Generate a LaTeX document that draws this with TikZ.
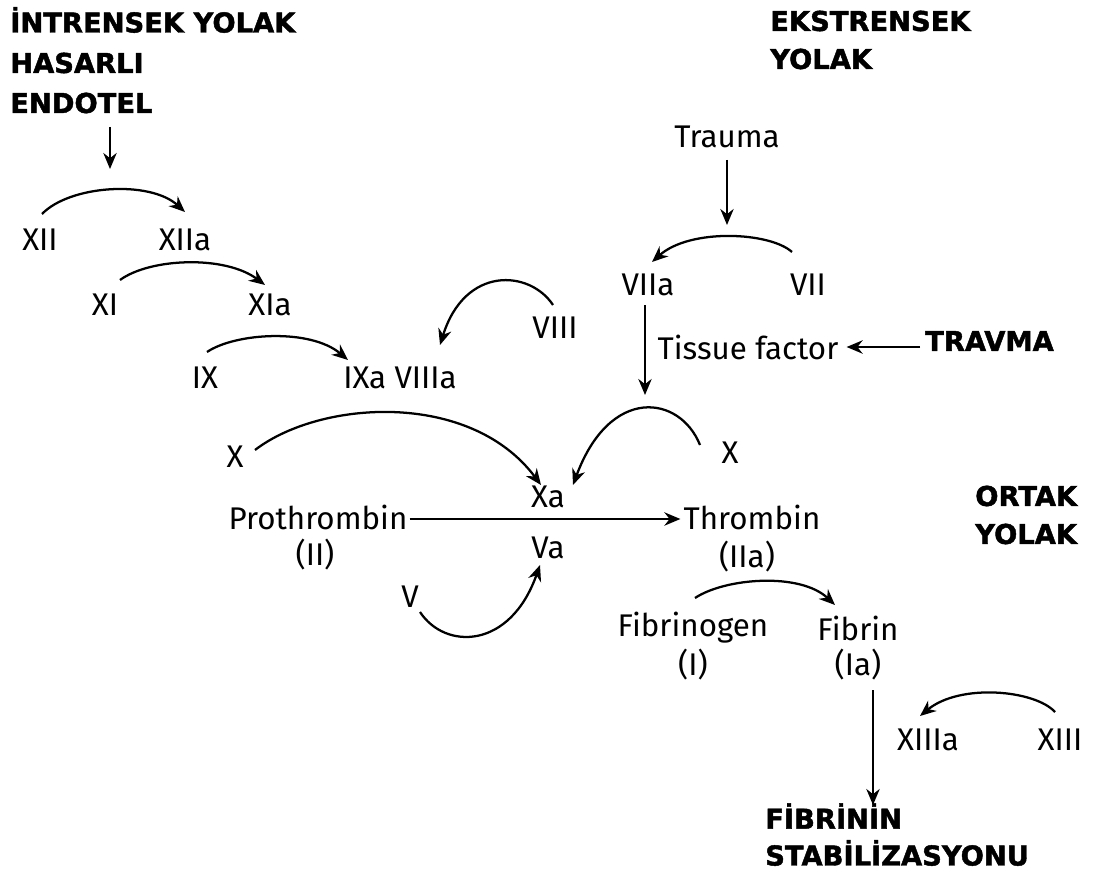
\documentclass[tikz,border=0pt]{standalone}
\usepackage{fontspec}
\setmainfont{Fira Sans}
\newfontfamily\headfont{DejaVu Sans}[BoldFont={DejaVu Sans Bold}, BoldFeatures={FakeBold=1.6}]
\usetikzlibrary{arrows.meta,calc}
\tikzset{
  lbl/.style={inner sep=0pt, font=\fontsize{23.5}{26}\selectfont},
  hd/.style={inner sep=0pt, anchor=west, font=\headfont\bfseries\fontsize{20.5}{23}\selectfont},
  arr/.style={-{Stealth[length=12pt,width=10pt]}, line width=1.7pt},
}
\begin{document}
\begin{tikzpicture}[x=0.75pt,y=-0.75pt]
\useasboundingbox (0,0) rectangle (1099,870);

% headings
\node[hd] (intr) at (10,20) {İNTRENSEK YOLAK};
\node[hd] (has) at (10,63) {HASARLI};
\node[hd] (endo) at (10,103) {ENDOTEL};
\node[hd] (ekst) at (770,21) {EKSTRENSEK};
\node[hd] (ekyol) at (770,59) {YOLAK};
\node[hd] (travma) at (925,341) {TRAVMA};
\node[hd] (ortak) at (975,496) {ORTAK};
\node[hd] (ortyol) at (975,534) {YOLAK};
\node[hd] (fib1) at (765,816) {FİBRİNİN};
\node[hd] (fib2) at (765,853) {STABİLİZASYONU};

% intrinsic cascade
\node[lbl] (xii) at (40,240) {XII};
\node[lbl] (xiia) at (185,240) {XIIa};
\node[lbl] (xi) at (105,305) {XI};
\node[lbl] (xia) at (270,305) {XIa};
\node[lbl] (ix) at (205,378) {IX};
\node[lbl] (ixa) at (400,378) {IXa VIIIa};
\node[lbl] (viii) at (555,328) {VIII};

% extrinsic cascade
\node[lbl] (trauma) at (727,137) {Trauma};
\node[lbl] (viia) at (648,285) {VIIa};
\node[lbl] (vii) at (808,285) {VII};
\node[lbl] (tf) at (748,347) {Tissue factor};

% common pathway
\node[lbl] (xl) at (235,457) {X};
\node[lbl] (xr) at (730,453) {X};
\node[lbl] (xa) at (548,497) {Xa};
\node[lbl] (va) at (548,548) {Va};
\node[lbl] (pro) at (318,517) {Prothrombin};
\node[lbl] (proii) at (315,555) {(II)};
\node[lbl] (thr) at (752,517) {Thrombin};
\node[lbl] (thrii) at (747,557) {(IIa)};
\node[lbl] (v) at (410,597) {V};
\node[lbl] (fgen) at (693,628) {Fibrinogen};
\node[lbl] (fgeni) at (693,665) {(I)};
\node[lbl] (fin) at (858,628) {Fibrin};
\node[lbl] (fini) at (858,665) {(Ia)};
\node[lbl] (xiiia) at (928,740) {XIIIa};
\node[lbl] (xiii) at (1060,740) {XIII};

% straight arrows
\draw[arr] ($(endo.west)+(100,24)$) -- ($(endo.west)+(100,66)$);
\draw[arr] ($(trauma)+(0,23)$) -- ($(trauma)+(0,88)$);
\draw[arr] ($(viia)+(-3,20)$) -- ($(viia)+(-3,110)$);
\draw[arr] ($(travma.west)+(-5,6)$) -- ($(tf.east)+(8,0)$);
\draw[arr] ($(pro.east)+(2,2)$) -- ($(thr.west)+(-3,2)$);
\draw[arr] ($(fini)+(15,25)$) -- ($(fini)+(15,140)$);

% curved conversion arrows
\draw[arr] ($(xii)+(2,-26)$) .. controls (70,185) and (150,180) .. ($(xiia)+(0,-28)$);
\draw[arr] ($(xi)+(15,-25)$) .. controls (150,258) and (225,255) .. ($(xia)+(-5,-20)$);
\draw[arr] ($(ix)+(2,-26)$) .. controls (235,333) and (310,328) .. ($(ixa)+(-52,-18)$);
\draw[arr] ($(viii)+(-2,-23)$) .. controls (530,270) and (465,265) .. ($(ixa)+(40,-33)$);
\draw[arr] ($(vii)+(-16,-33)$) .. controls (770,232) and (690,228) .. ($(viia)+(4,-23)$);
\draw[arr] ($(xl)+(20,-7)$) .. controls (320,400) and (470,390) .. ($(xa)+(-7,-12)$);
\draw[arr] ($(xr)+(-30,-8)$) .. controls (680,395) and (610,385) .. ($(xa)+(25,-12)$);
\draw[arr] ($(v)+(10,15)$) .. controls (445,650) and (510,650) .. ($(va)+(-8,17)$);
\draw[arr] ($(fgen)+(2,-30)$) .. controls (725,578) and (800,572) .. ($(fin)+(-23,-23)$);
\draw[arr] ($(xiii)+(-5,-28)$) .. controls (1035,690) and (960,683) .. ($(xiiia)+(-8,-24)$);
\end{tikzpicture}
\end{document}
